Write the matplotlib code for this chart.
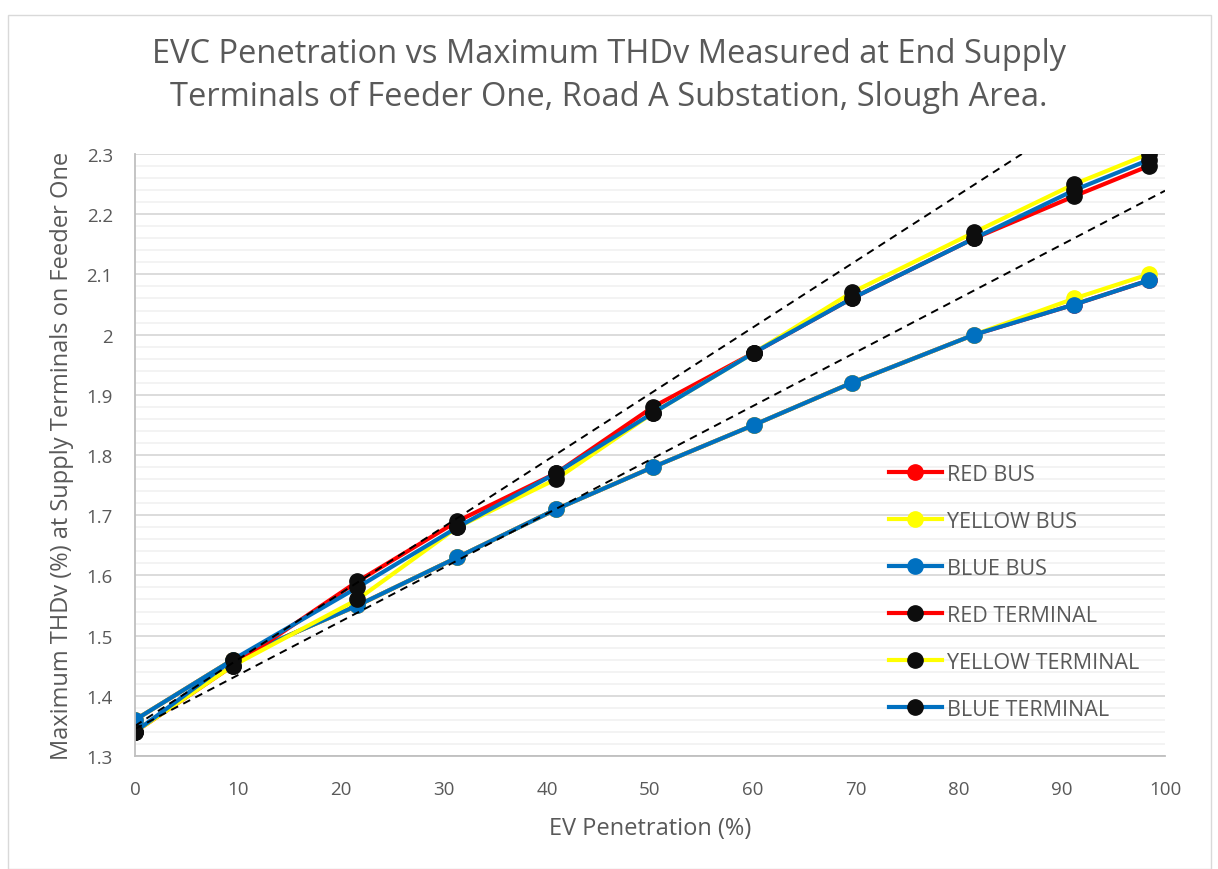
''' EVC penetration vs maximum THDv at end supply terminals '''
import matplotlib.pyplot as plt
from matplotlib.patches import Rectangle
from matplotlib.ticker import MultipleLocator

# EV penetration (%) of each study point
ev_pen = [0, 9.5, 21.6, 31.3, 40.9, 50.3, 60.1, 69.6, 81.5, 91.2, 98.4]

# maximum THDv (%) at the bus
red_bus = [1.36, 1.46, 1.55, 1.63, 1.71, 1.78, 1.85, 1.92, 2.00, 2.05, 2.09]
yellow_bus = [1.36, 1.46, 1.55, 1.63, 1.71, 1.78, 1.85, 1.92, 2.00, 2.06, 2.10]
blue_bus = [1.36, 1.46, 1.55, 1.63, 1.71, 1.78, 1.85, 1.92, 2.00, 2.05, 2.09]

# maximum THDv (%) at the end supply terminals
red_term = [1.34, 1.45, 1.59, 1.69, 1.77, 1.88, 1.97, 2.06, 2.16, 2.23, 2.28]
yellow_term = [1.34, 1.45, 1.56, 1.68, 1.76, 1.87, 1.97, 2.07, 2.17, 2.25, 2.30]
blue_term = [1.34, 1.46, 1.58, 1.68, 1.77, 1.87, 1.97, 2.06, 2.16, 2.24, 2.29]

# linear trend lines (end points)
trend_term_x = [0, 86.1]
trend_term_y = [1.35, 2.30]
trend_bus_x = [0, 100]
trend_bus_y = [1.345, 2.239]

RED = '#FF0000'
YELLOW = '#FFFF00'
BLUE = '#0070C0'
BLACK = '#0D0D0D'
TXT = '#595959'

plt.rcParams['font.family'] = ['Open Sans', 'DejaVu Sans']

fig = plt.figure(figsize=(12.18, 8.70), dpi=100)
fig.patches.append(Rectangle((8 / 1218, 0.0), 1203 / 1218, 1 - 16 / 870,
                             transform=fig.transFigure, fill=False,
                             edgecolor='#d9d9d9', linewidth=1.0))
ax = fig.add_axes([135 / 1218, 1 - 757 / 870, 1030 / 1218, 602 / 870])

lw = 3.0
ms = 11
series = [
    (red_bus, RED, RED, 'RED BUS'),
    (yellow_bus, YELLOW, YELLOW, 'YELLOW BUS'),
    (blue_bus, BLUE, BLUE, 'BLUE BUS'),
    (red_term, RED, BLACK, 'RED TERMINAL'),
    (yellow_term, YELLOW, BLACK, 'YELLOW TERMINAL'),
    (blue_term, BLUE, BLACK, 'BLUE TERMINAL'),
]
for vals, col, mcol, lab in series:
    ax.plot(ev_pen, vals, color=col, lw=lw, marker='o', ms=ms,
            markerfacecolor=mcol, markeredgecolor=mcol, label=lab)

ax.plot(trend_term_x, trend_term_y, color='black', lw=1.4, ls=(0, (4, 3)))
ax.plot(trend_bus_x, trend_bus_y, color='black', lw=1.4, ls=(0, (4, 3)))

ax.set_xlim(0, 100)
ax.set_ylim(1.3, 2.3)
ax.xaxis.set_major_locator(MultipleLocator(10))
ax.yaxis.set_minor_locator(MultipleLocator(0.02))
ax.set_yticks([1.3, 1.4, 1.5, 1.6, 1.7, 1.8, 1.9, 2.0, 2.1, 2.2, 2.3])
ax.set_yticklabels(['1.3', '1.4', '1.5', '1.6', '1.7', '1.8', '1.9', '2',
                    '2.1', '2.2', '2.3'])
ax.grid(which='major', axis='y', color='#d9d9d9', lw=1.3)
ax.grid(which='minor', axis='y', color='#f2f2f2', lw=1.3)
ax.set_axisbelow(True)
ax.tick_params(which='both', length=0, labelsize=13.5, colors=TXT)
ax.tick_params(axis='y', pad=16)
ax.tick_params(axis='x', pad=17)
for side in ('top', 'right'):
    ax.spines[side].set_visible(False)
for side in ('left', 'bottom'):
    ax.spines[side].set_color('#bfbfbf')
    ax.spines[side].set_linewidth(1.3)

ax.set_xlabel('EV Penetration (%)', fontsize=17, color=TXT, labelpad=13)
ax.set_ylabel('Maximum THDv (%) at Supply Terminals on Feeder One',
              fontsize=17, color=TXT, labelpad=9)
fig.text(0.5, 1 - 76 / 870,
         'EVC Penetration vs Maximum THDv Measured at End Supply\n'
         'Terminals of Feeder One, Road A Substation, Slough Area.',
         ha='center', va='center', fontsize=23.5, color=TXT, linespacing=1.4)

leg = ax.legend(loc='upper left', bbox_to_anchor=(0.713, 0.518),
                frameon=False, fontsize=15.5, labelspacing=1.21,
                handlelength=2.45, handletextpad=0.25, labelcolor=TXT)

fig.savefig('out.png', dpi=100)
